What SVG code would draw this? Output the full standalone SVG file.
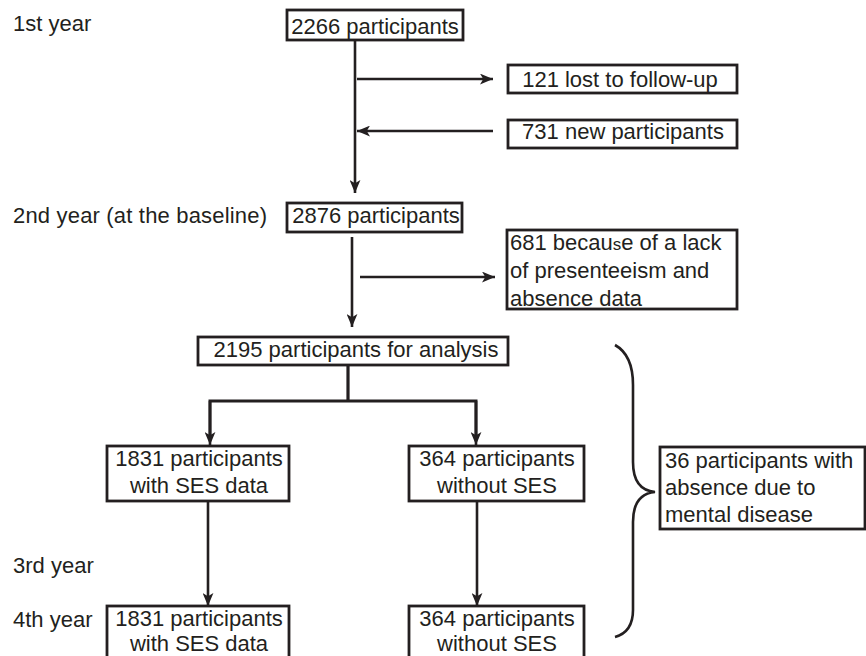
<svg xmlns="http://www.w3.org/2000/svg" width="866" height="656" viewBox="0 0 866 656">
<style>
text{font-family:"Liberation Sans",Arial,sans-serif;font-size:22px;fill:#231f20}
.box{fill:#fff;stroke:#231f20;stroke-width:2.8}
.ln{fill:none;stroke:#231f20;stroke-width:2.6}
.c{text-anchor:middle}
</style>
<defs>
<marker id="ah" viewBox="0 0 12 10" refX="12" refY="5" markerWidth="13" markerHeight="11" markerUnits="userSpaceOnUse" orient="auto">
<path d="M0,0 L12,5 L0,10 L3,5 Z" fill="#231f20"/>
</marker>
</defs>
<rect width="866" height="656" fill="#fff"/>
<g id="labels">
<text x="13" y="31">1st year</text>
<text x="13" y="223" textLength="254">2nd year (at the baseline)</text>
<text x="13" y="573">3rd year</text>
<text x="13" y="627">4th year</text>
</g>
<g id="connectors">
<line class="ln" x1="355" y1="40" x2="355" y2="193" marker-end="url(#ah)"/>
<line class="ln" x1="357" y1="79" x2="493" y2="79" marker-end="url(#ah)"/>
<line class="ln" x1="493" y1="131" x2="357" y2="131" marker-end="url(#ah)"/>
<line class="ln" x1="352" y1="237" x2="352" y2="327" marker-end="url(#ah)"/>
<line class="ln" x1="360" y1="277" x2="495" y2="277" marker-end="url(#ah)"/>
<line class="ln" x1="348" y1="365" x2="348" y2="401" style="stroke-width:3.2"/>
<polyline class="ln" points="210,435 210,401 476,401 476,435" style="stroke-width:3"/>
<line class="ln" x1="210" y1="401" x2="210" y2="445" marker-end="url(#ah)"/>
<line class="ln" x1="476" y1="401" x2="476" y2="445" marker-end="url(#ah)"/>
<line class="ln" x1="208" y1="501" x2="208" y2="606" marker-end="url(#ah)"/>
<line class="ln" x1="477" y1="501" x2="477" y2="606" marker-end="url(#ah)"/>
<path class="ln" d="M615,345 Q633,355 633,385 L633,462 Q633,490 655,492 Q633,494 633,522 L633,610 Q633,632 615,637"/>
</g>
<g id="n2266">
<rect class="box" x="287" y="10" width="176" height="30"/>
<text class="c" x="375" y="34">2266 participants</text>
</g>
<g id="n121">
<rect class="box" x="508" y="65" width="229" height="28"/>
<text class="c" x="620" y="87">121 lost to follow-up</text>
</g>
<g id="n731">
<rect class="box" x="508" y="120" width="229" height="28"/>
<text class="c" x="623" y="139">731 new participants</text>
</g>
<g id="n2876">
<rect class="box" x="287" y="203" width="175" height="29"/>
<text class="c" x="376" y="223">2876 participants</text>
</g>
<g id="n681">
<rect class="box" x="507" y="230" width="230" height="79"/>
<text x="510" y="250">681 becau<tspan style="font-size:17px">s</tspan>e of a lack</text>
<text x="510" y="278">of presenteeism and</text>
<text x="510" y="306">absence data</text>
</g>
<g id="n2195">
<rect class="box" x="198" y="337" width="310" height="28"/>
<text class="c" x="356" y="357">2195 participants for analysis</text>
</g>
<g id="n1831a">
<rect class="box" x="107" y="446" width="182" height="55"/>
<text class="c" x="199" y="466">1831 participants</text>
<text class="c" x="199" y="493">with SES data</text>
</g>
<g id="n364a">
<rect class="box" x="409" y="446" width="175" height="55"/>
<text class="c" x="497" y="466">364 participants</text>
<text class="c" x="497" y="493">without SES</text>
</g>
<g id="n1831b">
<rect class="box" x="107" y="606" width="182" height="56"/>
<text class="c" x="199" y="626">1831 participants</text>
<text class="c" x="199" y="651">with SES data</text>
</g>
<g id="n364b">
<rect class="box" x="409" y="606" width="175" height="56"/>
<text class="c" x="497" y="626">364 participants</text>
<text class="c" x="497" y="651">without SES</text>
</g>
<g id="n36">
<rect class="box" x="660" y="447" width="205" height="82"/>
<text x="665" y="468">36 participants with</text>
<text x="665" y="495">absence due to</text>
<text x="665" y="522">mental disease</text>
</g>
</svg>
